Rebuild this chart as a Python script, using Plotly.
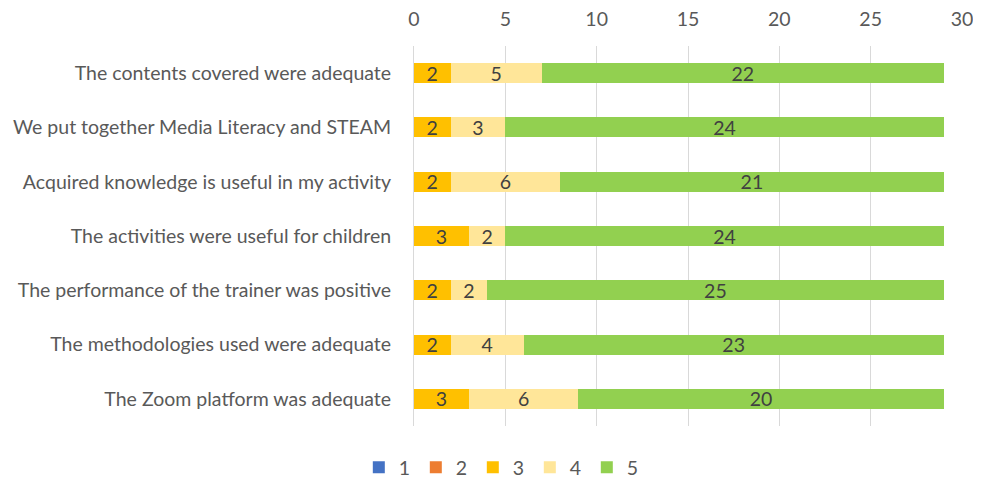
import plotly.graph_objects as go

categories = [
    "The contents covered were adequate",
    "We put together Media Literacy and STEAM",
    "Acquired knowledge is useful in my activity",
    "The activities were useful for children",
    "The performance of the trainer was positive",
    "The methodologies used were adequate",
    "The Zoom platform was adequate",
]
series_names = ["1", "2", "3", "4", "5"]
s1 = [0, 0, 0, 0, 0, 0, 0]
s2 = [0, 0, 0, 0, 0, 0, 0]
s3 = [2, 2, 2, 3, 2, 2, 3]
s4 = [5, 3, 6, 2, 2, 4, 6]
s5 = [22, 24, 21, 24, 25, 23, 20]
colors = ["#4472C4", "#ED7D31", "#FFC000", "#FFE699", "#92D050"]
x_ticks = [0, 5, 10, 15, 20, 25, 30]

font_family = "Lato, 'Open Sans', sans-serif"
fs = 19.5
fig = go.Figure()
for name, vals, col in zip(series_names, [s1, s2, s3, s4, s5], colors):
    fig.add_trace(go.Bar(
        y=categories, x=vals, name=name, orientation="h",
        marker=dict(color=col, line=dict(width=0)),
        text=[str(v) if v else "" for v in vals],
        textposition="inside", insidetextanchor="middle", textangle=0,
        textfont=dict(color="#404040", size=fs, family=font_family),
        constraintext="none",
    ))

fig.update_layout(
    barmode="stack",
    bargap=0.63,
    width=973, height=475,
    margin=dict(l=406, r=19, t=38, b=57, autoexpand=False),
    paper_bgcolor="white", plot_bgcolor="white",
    font=dict(family=font_family, size=fs, color="#595959"),
    uniformtext=dict(mode=False),
    legend=dict(orientation="h", xref="container", x=0.507, xanchor="center",
                y=-0.058, yanchor="top", entrywidth=12, entrywidthmode="pixels",
                font=dict(size=fs, color="#595959"), traceorder="normal"),
    showlegend=True,
)
fig.update_xaxes(side="top", range=[0, 30], tickvals=x_ticks, showgrid=True,
                 gridcolor="#D9D9D9", gridwidth=1, zeroline=False, showline=False,
                 ticks="outside", ticklen=11, tickcolor="rgba(0,0,0,0)",
                 automargin=False, tickfont=dict(size=fs, color="#595959"))
fig.update_yaxes(autorange="reversed", showline=True, linecolor="#D9D9D9",
                 linewidth=1, ticks="outside", ticklen=18, tickcolor="rgba(0,0,0,0)",
                 automargin=False, tickfont=dict(size=fs, color="#595959"),
                 categoryorder="array", categoryarray=categories)

fig.write_html("out.html")
